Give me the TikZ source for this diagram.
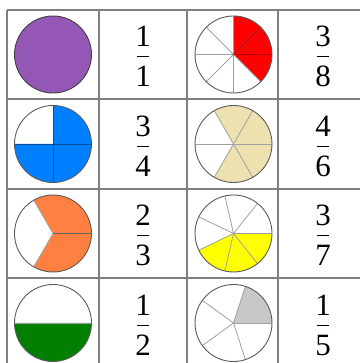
\documentclass[tikz,border=0pt]{standalone}
\usepackage{fontspec}
\setmainfont{Liberation Serif}
\definecolor{gridc}{HTML}{7F7F7F}
\definecolor{purp}{HTML}{9457B5}
\definecolor{blu}{HTML}{0080FF}
\definecolor{blud}{HTML}{0A4E9A}
\definecolor{tan}{HTML}{EEE1B0}
\definecolor{orng}{HTML}{FF8040}
\definecolor{yel}{HTML}{FFFF00}
\definecolor{grn}{HTML}{007F00}
\definecolor{gry}{HTML}{C8C8C8}
\definecolor{redd}{HTML}{FF0000}
\definecolor{outl}{HTML}{5A5A5A}
\definecolor{spk}{HTML}{A0A0A0}
\tikzset{
  gridline/.style={draw=gridc, line width=1.3pt},
  numtxt/.style={anchor=base, inner sep=0pt, font=\fontsize{31}{31}\selectfont},
  fracbar/.style={draw=black, line width=0.9pt},
  rim/.style={draw=outl, line width=0.9pt},
  spoke/.style={draw=spk, line width=0.8pt}
}
% \mypie{cx}{cy}{n}{fill start}{fill end}{colour}
\newcommand{\mypie}[6]{%
  \fill[#6] (#1,#2) -- ++(#4:38.5) arc[start angle=#4, end angle=#5, radius=38.5] -- cycle;
  \pgfmathsetmacro{\stp}{360/#3}
  \foreach \i in {1,...,#3}{%
    \pgfmathsetmacro{\ang}{(\i-1)*\stp}
    \draw[spoke] (#1,#2) -- ++(\ang:38.5);
  }
  \draw[rim] (#1,#2) circle[radius=38.5];
}
\newcommand{\myfrac}[5]{%
  \node[numtxt] (#1n) at (#2,#3+7.5) {#4};
  \node[numtxt] (#1d) at (#2,#3-32.5) {#5};
  \draw[fracbar] ([xshift=-5.7pt,yshift=-9.5pt]#1n.base) -- ([xshift=5.7pt,yshift=-9.5pt]#1n.base);
}
\begin{document}
\begin{tikzpicture}[x=1pt,y=1pt]
\useasboundingbox (0,0) rectangle (360,363);
% grid
\draw[gridline] (7,353) -- (360,353);
\draw[gridline] (7,264) -- (360,264);
\draw[gridline] (7,174) -- (360,174);
\draw[gridline] (7,85) -- (360,85);
\draw[gridline] (7,353) -- (7,0);
\draw[gridline] (99,353) -- (99,0);
\draw[gridline] (187,353) -- (187,0);
\draw[gridline] (278,353) -- (278,0);
% row 1
\fill[purp] (53,308.5) circle[radius=38.5];
\draw[draw=black!75, line width=0.9pt] (53,308.5) circle[radius=38.5];
\myfrac{a}{143}{308.5}{1}{1}
\mypie{233.5}{308.5}{8}{-45}{90}{redd}
\draw[draw=redd!70!black, line width=0.8pt] (233.5,308.5) -- ++(45:38.5) (233.5,308.5) -- ++(0:38.5);
\myfrac{b}{323}{308.5}{3}{8}
% row 2
\mypie{53}{219}{4}{-180}{90}{blu}
\draw[draw=blud, line width=0.8pt] (53,219) -- ++(0:38.5) (53,219) -- ++(-90:38.5) (53,219) -- ++(90:38.5) (53,219) -- ++(180:38.5);
\myfrac{c}{143}{219}{3}{4}
\mypie{233.5}{219}{6}{-120}{120}{tan}
\myfrac{d}{323}{219}{4}{6}
% row 3
\mypie{53}{129.5}{3}{-120}{120}{orng}
\draw[draw=black!60, line width=0.8pt] (53,129.5) -- ++(0:38.5);
\myfrac{e}{143}{129.5}{2}{3}
\mypie{233.5}{129.5}{7}{-154.2857}{0}{yel}
\myfrac{f}{323}{129.5}{3}{7}
% row 4
\mypie{53}{40}{2}{180}{360}{grn}
\myfrac{g}{143}{40}{1}{2}
\mypie{233.5}{40}{5}{0}{72}{gry}
\myfrac{h}{323}{40}{1}{5}
\end{tikzpicture}
\end{document}
